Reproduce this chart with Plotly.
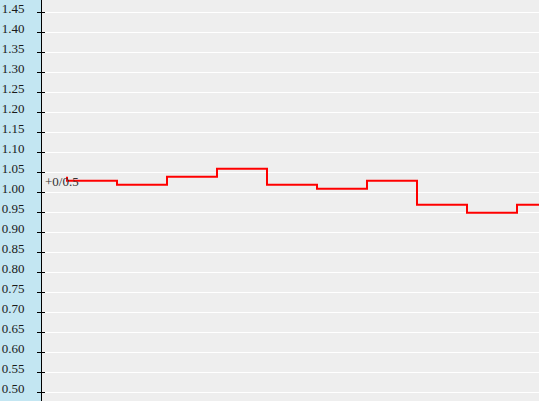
import plotly.graph_objects as go

# step values, one per period
periods = [0, 1, 2, 3, 4, 5, 6, 7, 8, 9, 10]
values = [1.04, 1.03, 1.02, 1.04, 1.06, 1.02, 1.01, 1.03, 0.97, 0.95, 0.97]
tick_vals = [round(0.50 + 0.05 * i, 2) for i in range(20)]
tick_text = ["%.2f" % v for v in tick_vals]
note = "+0/0.5"

serif = "Liberation Serif, Times New Roman, serif"

fig = go.Figure()
fig.add_trace(go.Scatter(
    x=periods, y=values, mode="lines",
    line=dict(color="#ff0000", width=2, shape="vh"),
    showlegend=False, hoverinfo="skip"))

# overlay axis only carries the inner half of the tick marks
fig.add_trace(go.Scatter(x=[periods[0]], y=[values[0]], yaxis="y2",
                         mode="none", showlegend=False, hoverinfo="skip"))

yr = [0.4792, 1.4817]
fig.update_layout(
    width=539, height=401,
    margin=dict(l=42, r=0, t=0, b=0, autoexpand=False),
    paper_bgcolor="#c3e6f2",
    plot_bgcolor="#eeeeee",
    font=dict(family=serif, size=13, color="#222222"),
    xaxis=dict(range=[-0.5, 9.44], showgrid=False, zeroline=False,
               showticklabels=False, ticks=""),
    yaxis=dict(range=yr, tickvals=tick_vals, ticktext=tick_text,
               showgrid=True, gridcolor="#ffffff", gridwidth=1,
               zeroline=False, showline=True, linecolor="#000000", linewidth=1,
               ticks="outside", ticklen=4, tickcolor="#000000",
               ticklabelstandoff=10, ticklabelshift=-4, automargin=False,
               tickfont=dict(family=serif, size=13, color="#1a1a1a")),
    yaxis2=dict(range=yr, overlaying="y", side="left", tickvals=tick_vals,
                showgrid=False, zeroline=False, showticklabels=False,
                ticks="inside", ticklen=3, tickcolor="#000000"),
    annotations=[dict(x=-0.5, y=1.027, xref="x", yref="y", text=note,
                      showarrow=False, xanchor="left", yanchor="middle",
                      xshift=1,
                      font=dict(family=serif, size=13, color="#333333"))],
)

fig.write_html("out.html", config={"displayModeBar": False},
               post_script="document.body.style.margin='0';")
